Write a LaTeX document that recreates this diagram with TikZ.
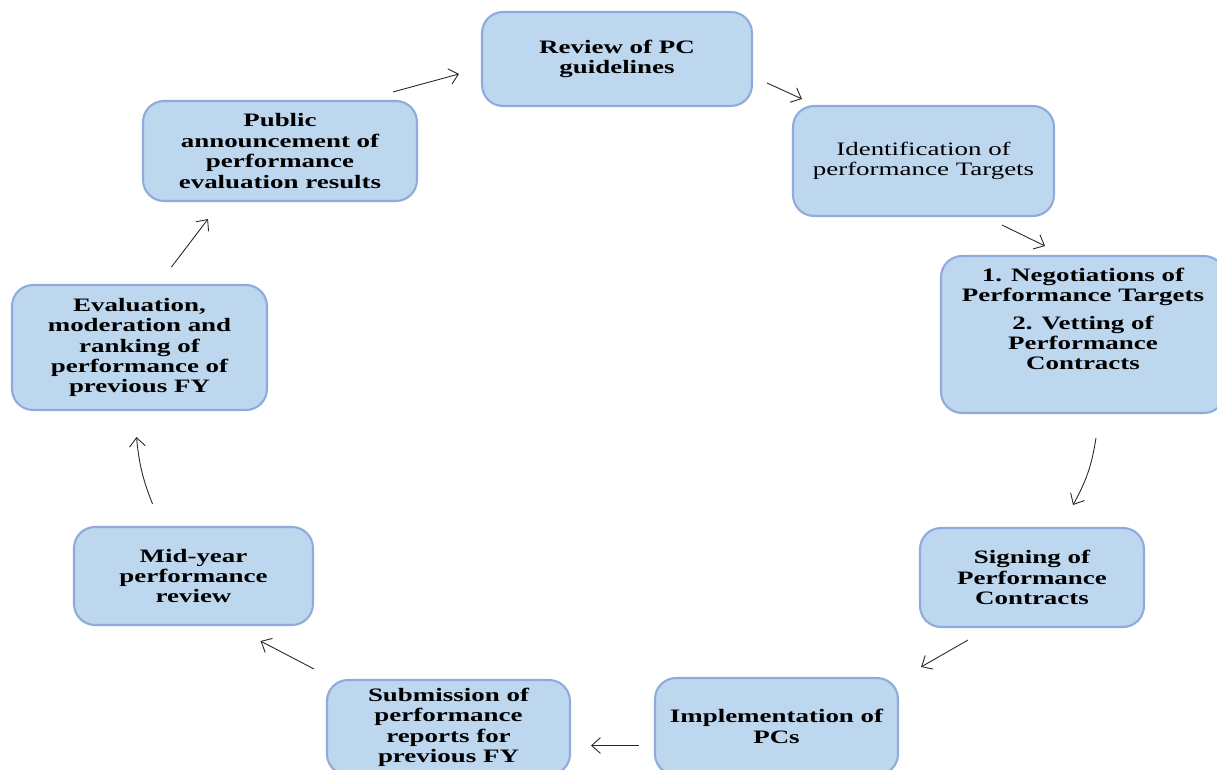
\documentclass[tikz,border=0pt]{standalone}
\usepackage{fontspec}
\setmainfont{Liberation Serif}[FakeStretch=1.42]
\usetikzlibrary{arrows.meta,calc}

\definecolor{boxfill}{RGB}{189,215,238}
\definecolor{boxline}{RGB}{143,170,220}

\tikzset{
  stage/.style={draw=boxline, line width=1.2pt, fill=boxfill, rounded corners=0.42cm,
    align=center, font=\bfseries\fontsize{10.8}{11.6}\selectfont, inner sep=2pt},
  flow/.style={-{Straight Barb[length=5pt,width=9pt]}, line width=0.5pt, black!85}
}

\begin{document}
\begin{tikzpicture}[x=0.02cm, y=-0.02cm]
    \useasboundingbox (0,0) rectangle (1217,770);

    % the nine stages of the cycle
    \node[stage, minimum width=5.4cm, minimum height=1.88cm] (rev) at (617,59)
        {Review of PC\\guidelines};
    \node[stage, minimum width=5.22cm, minimum height=2.2cm, font=\fontsize{10.8}{11.6}\selectfont] (ident) at (923.5,161)
        {Identification of\\performance Targets};
    \node[stage, minimum width=5.68cm, minimum height=3.14cm] (neg) at (1083,334.5)
        {1. Negotiations of\\Performance Targets\\[4pt]2. Vetting of\\Performance\\Contracts\\[6pt]\mbox{}};
    \node[stage, minimum width=4.48cm, minimum height=1.98cm] (sign) at (1032,577.5)
        {Signing of\\Performance\\Contracts};
    \node[stage, minimum width=4.86cm, minimum height=1.94cm] (impl) at (776.5,726.5)
        {Implementation of\\PCs};
    \node[stage, minimum width=4.86cm, minimum height=1.9cm] (sub) at (448.5,727.5)
        {Submission of\\performance\\reports for\\previous FY};
    \node[stage, minimum width=4.78cm, minimum height=1.96cm] (mid) at (193.5,576)
        {Mid-year\\performance\\review};
    \node[stage, minimum width=5.1cm, minimum height=2.5cm] (eval) at (139.5,347.5)
        {Evaluation,\\moderation and\\ranking of\\performance of\\previous FY};
    \node[stage, minimum width=5.48cm, minimum height=2cm] (pub) at (280,151)
        {Public\\announcement of\\performance\\evaluation results};

    % connectors
    \draw[flow] ($(pub.north east)+(-25,-8)$) -- ($(rev.west)+(-22,15)$);
    \draw[flow] ($(rev.east)+(14,24)$) -- ($(ident.north west)+(10,-6)$);
    \draw[flow] ($(ident.south east)+(-53,8)$) -- ($(neg.north)+(-38,-9)$);
    \draw[flow] ($(neg.south)+(13,24)$) to[bend left=10] ($(sign.north)+(41,-22)$);
    \draw[flow] ($(sign.south)+(-64,12)$) -- ($(impl.north east)+(22,-10)$);
    \draw[flow] ($(impl.west)+(-15,19)$) -- ($(sub.east)+(20,18)$);
    \draw[flow] ($(sub.north west)+(-12,-10)$) -- ($(mid.south)+(67,15)$);
    \draw[flow] ($(mid.north)+(-41,-22)$) to[bend left=8] ($(eval.south)+(-3,26)$);
    \draw[flow] ($(eval.north)+(32,-17)$) -- ($(pub.south)+(-72,17)$);

\end{tikzpicture}
\end{document}
